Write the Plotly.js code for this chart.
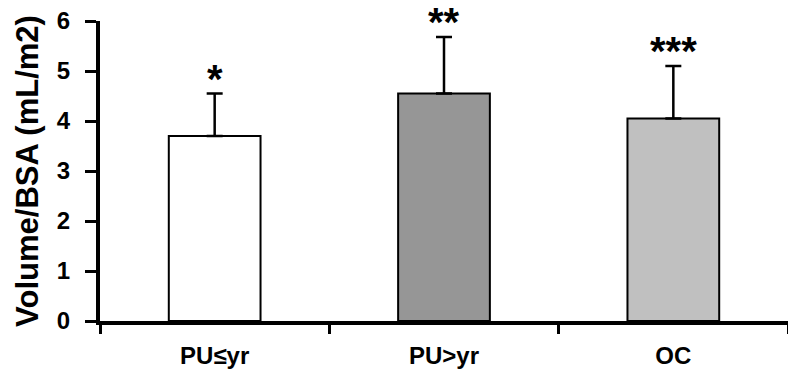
<!DOCTYPE html>
<html>
<head>
<meta charset="utf-8">
<script src="https://cdn.plot.ly/plotly-3.0.1.min.js"></script>
<style>html,body{margin:0;padding:0;background:#fff;}#chart{width:788px;height:385px;}</style>
</head>
<body>
<div id="chart"></div>
<script>
const categories = ["PU≤yr", "PU>yr", "OC"];
const means = [3.7, 4.55, 4.05];
const errPlus = [0.85, 1.13, 1.05];
const barColors = ["#ffffff", "#969696", "#c0c0c0"];
const sigLabels = ["*", "**", "***"];
const yTicks = [0, 1, 2, 3, 4, 5, 6];

const FONT = "Liberation Sans, Arial, sans-serif";

const trace = {
  type: "bar",
  x: categories,
  y: means,
  width: 0.4,
  marker: { color: barColors, line: { color: "#000", width: 2 } },
  error_y: {
    type: "data", symmetric: false,
    array: errPlus, arrayminus: means.map(() => 0),
    color: "#000", thickness: 2.5, width: 8
  },
  hoverinfo: "none"
};

const annotations = categories.map((c, i) => ({
  x: c, y: means[i] + errPlus[i], xref: "x", yref: "y",
  text: sigLabels[i], showarrow: false,
  yanchor: "bottom", yshift: -9,
  font: { family: FONT, size: 40, color: "#000", weight: "bold" }
}));

const layout = {
  width: 788, height: 385,
  margin: { l: 100, r: 0, t: 21, b: 64 },
  paper_bgcolor: "#fff", plot_bgcolor: "#fff",
  showlegend: false,
  font: { family: FONT, color: "#000" },
  xaxis: {
    type: "category",
    showline: true, linecolor: "#000", linewidth: 4,
    ticks: "outside", tickson: "boundaries", ticklen: 9, tickwidth: 3, tickcolor: "#000",
    tickfont: { family: FONT, size: 24, color: "#000", weight: "bold" },
    ticklabelstandoff: 10,
    showgrid: false, zeroline: false,
    range: [-0.5, 2.5]
  },
  yaxis: {
    range: [0, 6],
    tickvals: yTicks, ticktext: yTicks.map(String),
    showline: true, linecolor: "#000", linewidth: 4,
    ticks: "outside", ticklen: 11, tickwidth: 3, tickcolor: "#000",
    tickfont: { family: FONT, size: 24, color: "#000", weight: "bold" },
    ticklabelstandoff: 10,
    showgrid: false, zeroline: false,
    title: { text: "Volume/BSA (mL/m2)", font: { family: FONT, size: 31, color: "#000", weight: "bold" }, standoff: 10 }
  },
  annotations: annotations
};

Plotly.newPlot("chart", [trace], layout, { staticPlot: true, displayModeBar: false });
</script>
</body>
</html>
